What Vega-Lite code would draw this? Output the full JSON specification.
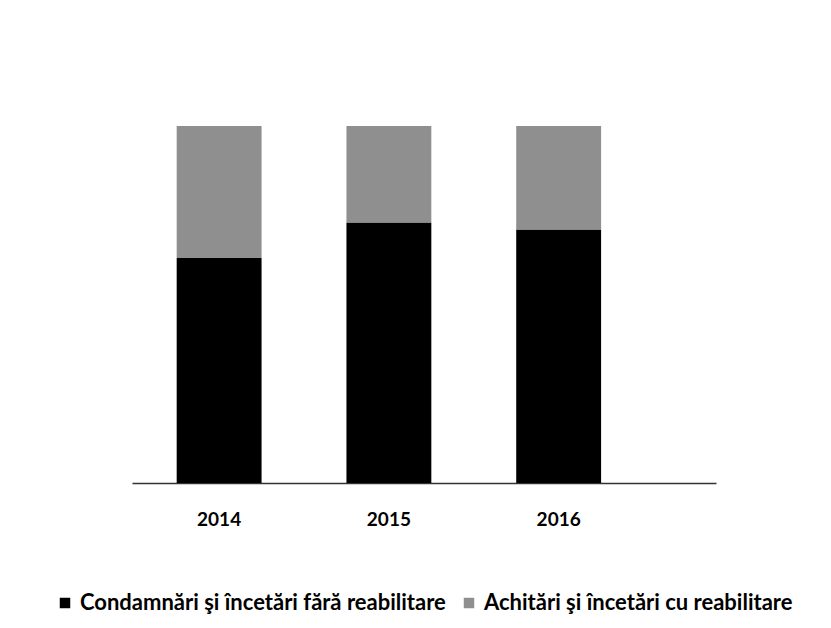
{
  "$schema": "https://vega.github.io/schema/vega-lite/v6.json",
  "autosize": {"type": "none"},
  "width": 584,
  "height": 357,
  "padding": {"left": 132, "top": 126, "right": 115, "bottom": 145},
  "background": "white",
  "data": {
    "values": [
      {"an": "2014", "serie": "Condamnări şi încetări fără reabilitare", "valoare": 63},
      {"an": "2014", "serie": "Achitări şi încetări cu reabilitare", "valoare": 37},
      {"an": "2015", "serie": "Condamnări şi încetări fără reabilitare", "valoare": 73},
      {"an": "2015", "serie": "Achitări şi încetări cu reabilitare", "valoare": 27},
      {"an": "2016", "serie": "Condamnări şi încetări fără reabilitare", "valoare": 71},
      {"an": "2016", "serie": "Achitări şi încetări cu reabilitare", "valoare": 29}
    ]
  },
  "mark": {"type": "bar"},
  "encoding": {
    "x": {
      "field": "an",
      "type": "nominal",
      "scale": {"paddingInner": 0.5, "paddingOuter": 0.47, "align": 0.28},
      "axis": {
        "title": null,
        "labelAngle": 0,
        "ticks": false,
        "labelPadding": 27,
        "labelFont": "Lato",
        "labelFontWeight": "bold",
        "labelFontSize": 19,
        "labelColor": "#000000",
        "domainColor": "#333333",
        "domainWidth": 1.5
      }
    },
    "y": {
      "field": "valoare",
      "type": "quantitative",
      "stack": "zero",
      "scale": {"domain": [0, 100], "nice": false},
      "axis": null
    },
    "color": {
      "field": "serie",
      "type": "nominal",
      "scale": {
        "domain": ["Condamnări şi încetări fără reabilitare", "Achitări şi încetări cu reabilitare"],
        "range": ["#000000", "#8f8f8f"]
      },
      "legend": {
        "title": null,
        "orient": "none",
        "direction": "horizontal",
        "legendX": -78,
        "legendY": 466,
        "symbolType": "square",
        "symbolSize": 110,
        "symbolStrokeWidth": 0,
        "labelFont": "Lato",
        "labelFontWeight": "bold",
        "labelFontSize": 22,
        "labelColor": "#000000",
        "labelLimit": 500,
        "columnPadding": 12,
        "symbolOffset": 0,
        "labelOffset": 4
      }
    },
    "order": {"field": "serie", "sort": "descending"}
  },
  "config": {
    "view": {"stroke": null},
    "axis": {"grid": false}
  }
}
